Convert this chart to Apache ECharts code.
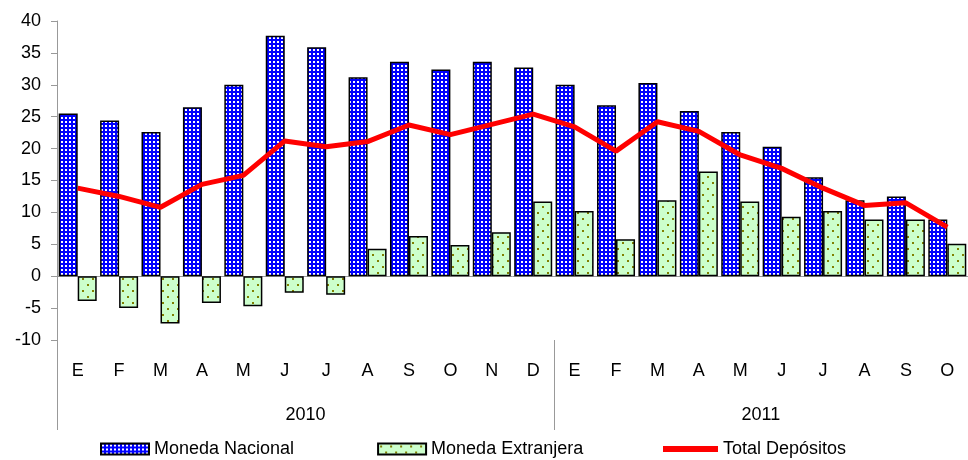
<!DOCTYPE html>
<html>
<head>
<meta charset="utf-8">
<script src="https://cdn.jsdelivr.net/npm/echarts@6/dist/echarts.min.js"></script>
<style>
  html, body { margin: 0; padding: 0; background: #fff; }
  #chart { width: 968px; height: 460px; }
</style>
</head>
<body>
<div id="chart"></div>
<script>
// month letters, two years
const months = ['E', 'F', 'M', 'A', 'M', 'J', 'J', 'A', 'S', 'O', 'N', 'D',
                'E', 'F', 'M', 'A', 'M', 'J', 'J', 'A', 'S', 'O'];
const years = ['2010', '2011'];
const yearMonths = [12, 10];

const nacional = [25.5, 24.4, 22.6, 26.5, 30.0, 37.7, 35.9, 31.2, 33.6, 32.4, 33.6, 32.7,
                  30.0, 26.8, 30.3, 25.9, 22.6, 20.3, 15.5, 11.9, 12.5, 8.9];
const extranjera = [-3.9, -5.0, -7.4, -4.2, -4.7, -2.6, -2.9, 4.3, 6.3, 4.9, 6.9, 11.7,
                    10.2, 5.8, 11.9, 16.4, 11.7, 9.3, 10.2, 8.9, 8.9, 5.1];
const total = [13.8, 12.5, 10.8, 14.4, 15.8, 21.2, 20.3, 21.1, 23.7, 22.2, 23.8, 25.4,
               23.4, 19.6, 24.2, 22.7, 19.0, 16.9, 13.8, 11.1, 11.5, 7.7];

const yTicks = { min: -10, max: 40, step: 5 };

// unique keys so repeated letters stay separate categories
const cats = months.map((m, i) => i + '|' + m);

// year boundaries and centres (in month units)
let acc = 0;
const yearEdges = [0];
const yearCentres = [];
yearMonths.forEach(n => {
  yearCentres.push(acc + n / 2);
  acc += n;
  yearEdges.push(acc);
});

/* ---- fill patterns ---- */
function tile(w, h, bg, fg, dots) {
  const c = document.createElement('canvas');
  c.width = w; c.height = h;
  const g = c.getContext('2d');
  g.fillStyle = bg;
  g.fillRect(0, 0, w, h);
  g.fillStyle = fg;
  dots.forEach(d => g.fillRect(d[0], d[1], 2, 2));
  return c;
}
const bluePat = { image: tile(4, 4, '#0000ff', '#ffffff', [[1, 1]]), repeat: 'repeat' };
const greenPat = { image: tile(10, 12, '#ccffcc', '#808000', [[2, 2], [7, 8]]), repeat: 'repeat' };

const font = '"Liberation Sans", Arial, sans-serif';
const legendText = { fontSize: 18, color: '#000', fontFamily: font };
const chart = echarts.init(document.getElementById('chart'));

chart.setOption({
  animation: false,
  textStyle: { fontFamily: font },
  grid: { left: 57, top: 21, height: 319, right: -7, containLabel: false },
  legend: [
    {
      left: 100,
      top: 440,
      padding: 0,
      icon: 'rect',
      itemWidth: 48,
      itemHeight: 11,
      itemGap: 83,
      textStyle: legendText,
      data: ['Moneda Nacional', 'Moneda Extranjera']
    },
    {
      left: 663,
      top: 440,
      padding: 0,
      itemWidth: 55,
      itemHeight: 6,
      textStyle: legendText,
      data: [{ name: 'Total Depósitos', icon: 'rect' }]
    }
  ],
  xAxis: [
    {
      type: 'category',
      data: cats,
      axisLine: { onZero: true, lineStyle: { color: '#999', width: 1 } },
      axisTick: { show: false },
      axisLabel: {
        margin: 22,
        fontSize: 18,
        color: '#000',
        interval: 0,
        formatter: v => v.split('|')[1]
      }
    },
    {
      // year band under the months
      type: 'value',
      position: 'bottom',
      min: 0,
      max: months.length,
      axisLine: { show: false },
      splitLine: { show: false },
      axisTick: {
        show: true,
        customValues: yearEdges.slice(0, -1),
        length: 90,
        lineStyle: { color: '#999', width: 1 }
      },
      axisLabel: {
        customValues: yearCentres,
        margin: 66,
        fontSize: 18,
        color: '#000',
        formatter: v => years[yearCentres.indexOf(v)] || ''
      }
    }
  ],
  yAxis: {
    type: 'value',
    min: yTicks.min,
    max: yTicks.max,
    interval: yTicks.step,
    splitLine: { show: false },
    axisLine: { show: true, lineStyle: { color: '#999', width: 1 } },
    axisTick: { show: true, length: 6, lineStyle: { color: '#999' } },
    axisLabel: { fontSize: 18, color: '#000', margin: 16 }
  },
  series: [
    {
      name: 'Moneda Nacional',
      type: 'bar',
      data: nacional,
      barWidth: 19,
      barGap: '0%',
      itemStyle: { color: bluePat, borderColor: '#000', borderWidth: 1.5 }
    },
    {
      name: 'Moneda Extranjera',
      type: 'bar',
      data: extranjera,
      barWidth: 19,
      barGap: '0%',
      itemStyle: { color: greenPat, borderColor: '#000', borderWidth: 1.5 }
    },
    {
      name: 'Total Depósitos',
      type: 'line',
      data: total,
      symbol: 'none',
      z: 5,
      itemStyle: { color: '#ff0000' },
      lineStyle: { color: '#ff0000', width: 5 }
    }
  ]
});
</script>
</body>
</html>
